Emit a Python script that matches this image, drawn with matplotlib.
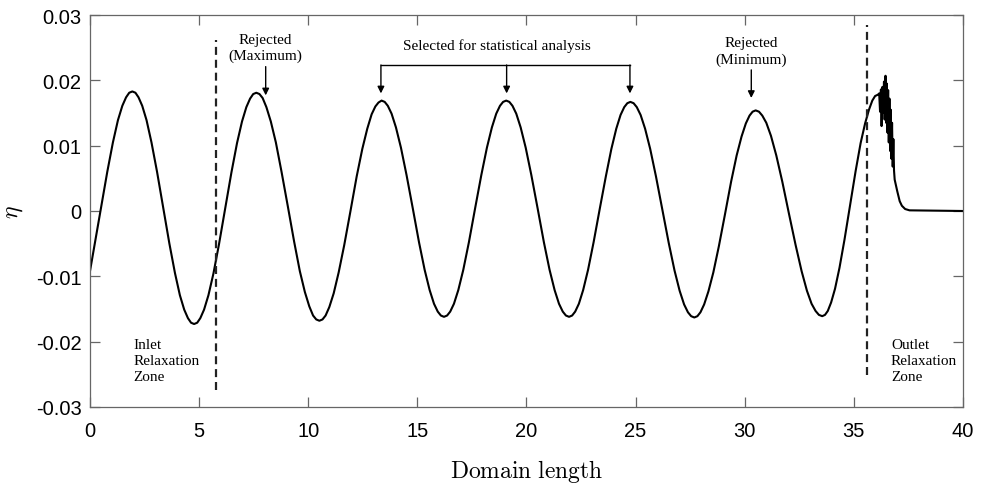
import matplotlib
matplotlib.use("Agg")
import matplotlib.pyplot as plt

plt.rcParams['mathtext.fontset'] = 'cm'

# ---- data ----
domain_x = [0.000, 0.218, 0.505, 0.792, 1.050, 1.280, 1.481, 1.653, 1.797,
            1.940, 2.082, 2.223, 2.393, 2.591, 2.817, 3.072, 3.355, 3.638, 3.893, 4.119, 4.317, 4.487, 4.629,
            4.770, 4.913, 5.055, 5.226, 5.426, 5.654, 5.910, 6.195, 6.480, 6.737, 6.965, 7.164, 7.335, 7.478,
            7.620, 7.765, 7.909, 8.082, 8.285, 8.516, 8.776, 9.065, 9.354, 9.614, 9.845, 10.048, 10.221, 10.366,
            10.510, 10.653, 10.795, 10.966, 11.166, 11.394, 11.650, 11.935, 12.220, 12.477, 12.705, 12.904, 13.075, 13.218,
            13.360, 13.503, 13.646, 13.818, 14.018, 14.247, 14.504, 14.790, 15.076, 15.333, 15.562, 15.762, 15.934, 16.077,
            16.220, 16.363, 16.505, 16.676, 16.876, 17.104, 17.360, 17.645, 17.930, 18.187, 18.415, 18.614, 18.785, 18.928,
            19.070, 19.214, 19.358, 19.531, 19.732, 19.963, 20.222, 20.510, 20.798, 21.057, 21.288, 21.489, 21.662, 21.806,
            21.950, 22.091, 22.231, 22.400, 22.596, 22.821, 23.074, 23.355, 23.636, 23.889, 24.114, 24.310, 24.479, 24.620,
            24.760, 24.907, 25.053, 25.229, 25.434, 25.668, 25.932, 26.225, 26.518, 26.782, 27.016, 27.221, 27.397, 27.544,
            27.690, 27.831, 27.971, 28.140, 28.336, 28.561, 28.814, 29.095, 29.376, 29.629, 29.854, 30.050, 30.219, 30.360,
            30.500, 30.653, 30.805, 30.988, 31.202, 31.446, 31.720, 32.025, 32.330, 32.605, 32.849, 33.062, 33.245, 33.398,
            33.550, 33.678, 33.805, 33.958, 34.137, 34.341, 34.570, 34.825, 35.080, 35.310, 35.514, 35.692, 35.845, 35.973,
            36.100, 36.16, 36.20, 36.24, 36.27, 36.31, 36.34, 36.38, 36.41, 36.45, 36.48,
            36.51, 36.54, 36.57, 36.60, 36.63, 36.66, 36.69, 36.72, 36.75, 36.78,
            36.81, 36.84, 36.87, 36.99, 37.10, 37.20, 37.35, 37.55, 40.00]
eta = [-0.0092, -0.0050, 0.0005, 0.0060, 0.0105, 0.0139, 0.0161, 0.0174, 0.0181,
       0.0183, 0.0181, 0.0174, 0.0161, 0.0139, 0.0105, 0.0060, 0.0005, -0.0050, -0.0095, -0.0129, -0.0151, -0.0164, -0.0171,
       -0.0173, -0.0171, -0.0164, -0.0151, -0.0129, -0.0096, -0.0051, 0.0004, 0.0059, 0.0104, 0.0137, 0.0159, 0.0172, 0.0179,
       0.0181, 0.0179, 0.0173, 0.0159, 0.0137, 0.0105, 0.0060, 0.0007, -0.0047, -0.0092, -0.0124, -0.0146, -0.0160, -0.0166,
       -0.0168, -0.0166, -0.0160, -0.0147, -0.0126, -0.0094, -0.0052, 0.0000, 0.0053, 0.0095, 0.0126, 0.0148, 0.0160, 0.0166,
       0.0169, 0.0167, 0.0161, 0.0149, 0.0128, 0.0097, 0.0055, 0.0004, -0.0048, -0.0090, -0.0121, -0.0142, -0.0154, -0.0160,
       -0.0162, -0.0160, -0.0154, -0.0142, -0.0121, -0.0090, -0.0048, 0.0004, 0.0055, 0.0097, 0.0128, 0.0149, 0.0161, 0.0167,
       0.0169, 0.0167, 0.0161, 0.0149, 0.0128, 0.0097, 0.0055, 0.0004, -0.0048, -0.0090, -0.0121, -0.0142, -0.0154, -0.0160,
       -0.0162, -0.0160, -0.0154, -0.0142, -0.0121, -0.0090, -0.0048, 0.0003, 0.0053, 0.0095, 0.0126, 0.0147, 0.0159, 0.0165,
       0.0167, 0.0165, 0.0159, 0.0147, 0.0126, 0.0095, 0.0053, 0.0002, -0.0049, -0.0091, -0.0122, -0.0143, -0.0155, -0.0161,
       -0.0163, -0.0161, -0.0155, -0.0143, -0.0123, -0.0094, -0.0054, -0.0005, 0.0045, 0.0085, 0.0114, 0.0134, 0.0146, 0.0152,
       0.0154, 0.0152, 0.0146, 0.0135, 0.0115, 0.0085, 0.0045, -0.0004, -0.0052, -0.0092, -0.0122, -0.0142, -0.0153, -0.0159,
       -0.0161, -0.0159, -0.0153, -0.0140, -0.0119, -0.0087, -0.0044, 0.0009, 0.0061, 0.0104, 0.0134, 0.0155, 0.0169, 0.0176,
       0.0178, 0.0180, 0.0152, 0.0186, 0.0130, 0.0190, 0.0150, 0.0198, 0.0140, 0.0207, 0.0135,
       0.0195, 0.0120, 0.0185, 0.0105, 0.0172, 0.0092, 0.0155, 0.0080, 0.0135, 0.0068,
       0.0110, 0.0062, 0.0048, 0.0030, 0.0015, 0.0008, 0.0003, 0.0001, 0.0000]

zone_x = [5.77, 35.60]
zone_ymin = [-0.0274, -0.0251]
zone_ymax = [0.0262, 0.0284]

xticks = [0, 5, 10, 15, 20, 25, 30, 35, 40]
yticks = [-0.03, -0.02, -0.01, 0.0, 0.01, 0.02, 0.03]
ytick_labels = ["-0.03", "-0.02", "-0.01", "0", "0.01", "0.02", "0.03"]

selected_x = [13.33, 19.09, 24.74]
rej_max_x = 8.05
rej_min_x = 30.30

# ---- figure ----
fig = plt.figure(figsize=(9.89, 4.85), dpi=100)
ax = fig.add_axes([0.091, 0.1588, 0.8827, 0.8082])

ax.plot(domain_x, eta, color='black', lw=1.5, solid_joinstyle='round')

for zx, y0, y1 in zip(zone_x, zone_ymin, zone_ymax):
    ax.plot([zx, zx], [y0, y1], color='#222222', lw=1.6, ls=(0, (3.6, 2.2)))

ax.set_xlim(0, 40)
ax.set_ylim(-0.03, 0.03)
ax.set_xticks(xticks)
ax.set_yticks(yticks)
ax.set_yticklabels(ytick_labels)
ax.tick_params(direction='in', length=7, width=0.9, color='#666666',
               top=True, right=True, labelsize=14.5, pad=6)
ax.tick_params(axis='x', pad=10)
for lab in ax.get_xticklabels() + ax.get_yticklabels():
    lab.set_fontfamily('Liberation Sans')
for s in ax.spines.values():
    s.set_color('#666666')
    s.set_linewidth(0.9)

ax.set_xlabel(r'$\mathrm{Domain\ length}$', fontsize=17, labelpad=12)
ax.set_ylabel(r'$\eta$', fontsize=17, labelpad=8)

serif = 'Liberation Serif'
fs_ann = 11
arrow_kw = dict(arrowstyle='-|>', color='black', lw=1.0, mutation_scale=10,
                shrinkA=0, shrinkB=0)

# Rejected (Maximum)
ax.text(rej_max_x, 0.0250, 'Rejected\n(Maximum)', ha='center', va='center',
        fontsize=fs_ann, family=serif, linespacing=1.3)
ax.annotate('', xy=(rej_max_x, 0.0177), xytext=(rej_max_x, 0.0221), arrowprops=arrow_kw)

# Rejected (Minimum)
ax.text(rej_min_x, 0.0245, 'Rejected\n(Minimum)', ha='center', va='center',
        fontsize=fs_ann, family=serif, linespacing=1.3)
ax.annotate('', xy=(rej_min_x, 0.0173), xytext=(rej_min_x, 0.0216), arrowprops=arrow_kw)

# Selected for statistical analysis
ax.text(18.63, 0.0254, 'Selected for statistical analysis', ha='center', va='center',
        fontsize=fs_ann, family=serif)
ax.plot([selected_x[0], selected_x[-1]], [0.02235, 0.02235], color='black', lw=1.0)
for sx in selected_x:
    ax.annotate('', xy=(sx, 0.0180), xytext=(sx, 0.02235), arrowprops=arrow_kw)

# zone labels
ax.text(1.98, -0.0229, 'Inlet\nRelaxation\nZone', ha='left', va='center',
        fontsize=fs_ann, family=serif, linespacing=1.3)
ax.text(36.70, -0.0229, 'Outlet\nRelaxation\nZone', ha='left', va='center',
        fontsize=fs_ann, family=serif, linespacing=1.3)

fig.savefig('out.png', dpi=100)
